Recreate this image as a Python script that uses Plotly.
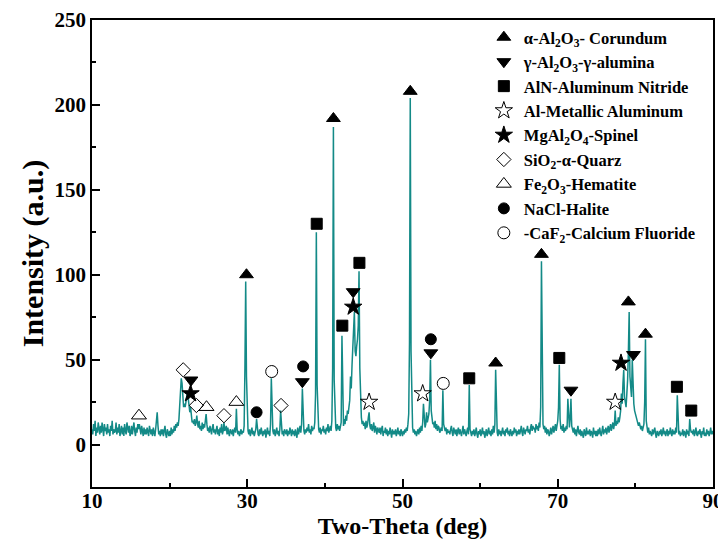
import numpy as np
import plotly.graph_objects as go

# ---------------- data ----------------
two_theta_start = 10.0
two_theta_step = 0.1

intensity = [
    9, 6, 12, 8, 14, 5, 10, 7, 13, 8,        # 10
    6, 11, 7, 13, 9, 5, 12, 8, 10, 6,        # 11
    12, 7, 9, 5, 11, 8, 14, 6, 9, 7,         # 12
    8, 13, 6, 10, 7, 12, 5, 9, 11, 6,        # 13
    10, 5, 12, 8, 6, 13, 9, 7, 11, 5,        # 14
    7, 11, 6, 9, 13, 8, 5, 10, 7, 12,        # 15
    9, 12, 8, 6, 11, 7, 5, 10, 6, 9,         # 16
    6, 10, 7, 5, 11, 8, 6, 9, 5, 10,         # 17
    7, 5, 9, 13, 19, 11, 6, 8, 5, 9,         # 18
    6, 9, 5, 8, 11, 6, 4, 9, 7, 5,           # 19
    8, 5, 10, 6, 9, 7, 11, 8, 12, 10,        # 20
    13, 11, 15, 25, 34, 39, 36, 30, 22, 24,  # 21
    22, 25, 29, 31, 27, 21, 19, 22, 16, 13,  # 22
    14, 12, 15, 11, 13, 17, 12, 10, 14, 9,   # 23
    11, 8, 13, 9, 12, 10, 14, 18, 12, 8,     # 24
    10, 7, 11, 8, 6, 10, 12, 7, 9, 6,        # 25
    8, 11, 6, 9, 5, 10, 7, 12, 6, 8,         # 26
    13, 8, 9, 11, 6, 10, 7, 5, 9, 7,         # 27
    6, 9, 5, 8, 10, 7, 21, 9, 6, 8,          # 28
    5, 7, 9, 6, 8, 7, 11, 45, 96, 40,        # 29
    12, 8, 6, 9, 5, 7, 10, 6, 8, 5,          # 30
    7, 9, 15, 8, 6, 5, 9, 6, 10, 7,          # 31
    5, 8, 6, 9, 4, 7, 10, 6, 8, 5,           # 32
    12, 39, 13, 8, 6, 9, 5, 7, 10, 6,        # 33
    8, 5, 9, 20, 10, 6, 8, 5, 9, 7,          # 34
    6, 9, 5, 8, 6, 10, 7, 5, 9, 6,           # 35
    8, 5, 9, 7, 4, 10, 6, 8, 11, 7,          # 36
    12, 33, 14, 8, 6, 9, 7, 10, 8, 12,       # 37
    7, 9, 6, 11, 8, 10, 9, 13, 30, 125,      # 38
    35, 12, 9, 7, 10, 6, 9, 8, 11, 7,        # 39
    9, 6, 10, 8, 12, 7, 9, 11, 8, 14,        # 40
    45, 187, 38, 14, 10, 8, 12, 9, 11, 8,    # 41
    10, 13, 64, 18, 11, 15, 12, 17, 14, 20,  # 42
    18, 22, 26, 40, 33, 47, 58, 66, 78, 55,  # 43
    52, 58, 62, 70, 102, 45, 24, 16, 12, 14, # 44
    11, 13, 9, 14, 10, 12, 16, 19, 11, 9,    # 45
    12, 8, 10, 13, 7, 11, 9, 6, 10, 8,       # 46
    7, 10, 6, 9, 11, 5, 8, 7, 10, 6,         # 47
    9, 5, 8, 6, 10, 7, 4, 9, 6, 8,           # 48
    6, 9, 5, 7, 10, 6, 8, 5, 9, 7,           # 49
    5, 8, 6, 9, 7, 10, 8, 12, 18, 60,        # 50
    204, 55, 16, 10, 7, 9, 6, 8, 5, 7,       # 51
    9, 6, 10, 7, 11, 8, 13, 24, 11, 10,      # 52
    12, 19, 13, 15, 18, 26, 50, 20, 14, 12,  # 53
    13, 10, 14, 9, 12, 8, 11, 10, 7, 9,      # 54
    10, 8, 32, 12, 9, 8, 10, 6, 9, 7,        # 55
    8, 6, 9, 11, 7, 5, 10, 8, 6, 9,          # 56
    5, 8, 10, 6, 9, 7, 5, 8, 11, 6,          # 57
    9, 7, 5, 8, 10, 6, 35, 9, 7, 5,          # 58
    8, 6, 9, 5, 7, 10, 6, 4, 8, 6,           # 59
    9, 5, 7, 10, 6, 8, 4, 7, 9, 5,           # 60
    7, 10, 6, 8, 5, 9, 6, 11, 7, 12,         # 61
    44, 11, 7, 5, 9, 6, 8, 5, 7, 10,         # 62
    6, 8, 5, 9, 7, 10, 6, 8, 5, 9,           # 63
    7, 5, 8, 6, 10, 7, 9, 5, 8, 6,           # 64
    9, 6, 8, 11, 7, 5, 10, 8, 6, 9,          # 65
    8, 11, 7, 9, 6, 10, 12, 8, 11, 9,        # 66
    10, 7, 12, 9, 11, 8, 13, 10, 22, 108,    # 67
    30, 12, 9, 11, 7, 10, 6, 9, 8, 5,        # 68
    7, 10, 6, 8, 11, 7, 9, 12, 8, 10,        # 69
    14, 22, 47, 15, 9, 11, 8, 12, 7, 10,     # 70
    8, 11, 9, 27, 13, 10, 16, 27, 11, 9,     # 71
    7, 10, 6, 9, 5, 8, 11, 7, 6, 9,          # 72
    5, 8, 6, 4, 9, 7, 5, 10, 6, 8,           # 73
    6, 9, 5, 8, 7, 4, 10, 6, 8, 5,           # 74
    8, 5, 9, 6, 10, 7, 5, 8, 11, 6,          # 75
    9, 7, 10, 6, 8, 11, 7, 9, 12, 8,         # 76
    10, 13, 9, 12, 20, 11, 14, 12, 16, 13,   # 77
    16, 20, 30, 24, 36, 44, 28, 25, 22, 30,  # 78
    38, 55, 78, 40, 30, 28, 50, 32, 24, 20,  # 79
    18, 16, 14, 12, 11, 13, 10, 9, 11, 8,    # 80
    10, 12, 25, 62, 14, 9, 7, 10, 6, 8,      # 81
    7, 5, 9, 6, 8, 10, 6, 4, 8, 7,           # 82
    5, 8, 6, 9, 5, 7, 10, 6, 8, 5,           # 83
    7, 9, 5, 8, 6, 10, 7, 5, 9, 6,           # 84
    8, 6, 10, 7, 29, 9, 6, 8, 5, 7,          # 85
    6, 9, 5, 8, 7, 4, 9, 6, 8, 5,            # 86
    15, 9, 7, 8, 6, 9, 5, 7, 10, 6,          # 87
    5, 8, 6, 9, 7, 4, 8, 6, 10, 5,           # 88
    7, 5, 9, 6, 8, 5, 7, 10, 6, 8,           # 89
    6,                                       # 90
]

# phase markers (2-theta, intensity)
corundum_x = [29.9, 41.1, 51.0, 62.0, 67.9, 79.1, 81.3]
corundum_y = [100, 192, 208, 48, 112, 84, 65]
gamma_x = [22.75, 37.1, 43.65, 53.65, 71.7, 79.75]
gamma_y = [38, 37, 90, 54, 32, 53]
aln_x = [38.95, 42.25, 44.45, 58.6, 70.2, 85.35, 87.2]
aln_y = [130, 70, 107, 39, 51, 34, 20]
al_x = [45.7, 52.6, 77.4]
al_y = [25, 30, 25]
spinel_x = [22.7, 43.65, 78.15]
spinel_y = [30, 81, 48]
quartz_x = [21.75, 23.45, 27.0, 34.35]
quartz_y = [44, 23, 17, 23]
hematite_x = [16.05, 24.75, 28.6]
hematite_y = [17, 22, 25]
halite_x = [31.2, 37.2, 53.65]
halite_y = [19, 46, 62]
caf2_x = [33.15, 55.25]
caf2_y = [43, 36]

x_tick_vals = [10, 30, 50, 70, 90]
y_tick_vals = [0, 50, 100, 150, 200, 250]

# ---------------- figure ----------------
two_theta = np.round(two_theta_start + two_theta_step * np.arange(len(intensity)), 2)

FONT = "Liberation Serif"
fig = go.Figure()
fig.add_trace(go.Scatter(
    x=two_theta, y=intensity, mode="lines",
    line=dict(color="#138a87", width=1.5), showlegend=False, hoverinfo="skip"))

phases = [
    ("α-Al<sub>2</sub>O<sub>3</sub>- Corundum", corundum_x, corundum_y, "triangle-up", 12),
    ("γ-Al<sub>2</sub>O<sub>3</sub>-γ-alumina", gamma_x, gamma_y, "triangle-down", 12),
    ("AlN-Aluminum Nitride", aln_x, aln_y, "square", 11),
    ("Al-Metallic Aluminum", al_x, al_y, "star-open", 13),
    ("MgAl<sub>2</sub>O<sub>4</sub>-Spinel", spinel_x, spinel_y, "star", 13),
    ("SiO<sub>2</sub>-α-Quarz", quartz_x, quartz_y, "diamond-open", 11),
    ("Fe<sub>2</sub>O<sub>3</sub>-Hematite", hematite_x, hematite_y, "triangle-up-open", 13),
    ("NaCl-Halite", halite_x, halite_y, "circle", 11),
    ("-CaF<sub>2</sub>-Calcium Fluoride", caf2_x, caf2_y, "circle-open", 12),
]
for name, xs, ys, sym, sz in phases:
    fig.add_trace(go.Scatter(
        x=xs, y=ys, mode="markers", name=name,
        marker=dict(symbol=sym, size=sz, color="black", line=dict(color="black", width=1))))

axis_common = dict(
    showline=True, linecolor="black", linewidth=1.5, mirror=True,
    ticks="inside", tickcolor="black", tickwidth=1.5, ticklen=8,
    showgrid=False, zeroline=False, automargin=False,
    tickfont=dict(family=FONT, size=21, color="black", weight="bold"),
)
fig.update_xaxes(
    range=[10, 90], tickvals=x_tick_vals, ticklabelstandoff=-6,
    minor=dict(ticks="inside", ticklen=4, tickwidth=1.5, tickcolor="black", dtick=10, tick0=10),
    title=dict(text="Two-Theta (deg)", font=dict(family=FONT, size=24, color="black", weight="bold"),
               standoff=0),
    **axis_common)
fig.update_yaxes(
    range=[-25, 250], tickvals=y_tick_vals,
    minor=dict(ticks="inside", ticklen=4, tickwidth=1.5, tickcolor="black", dtick=25, tick0=0),
    title=dict(text="Intensity (a.u.)", font=dict(family=FONT, size=30, color="black", weight="bold"),
               standoff=2),
    **axis_common)

# the page body adds an 8 px offset, so the figure is sized to fit the window
fig.update_layout(
    width=718, height=537,
    margin=dict(l=84, r=13, t=12, b=58),
    paper_bgcolor="white", plot_bgcolor="white",
    legend=dict(x=0.631, y=1.0, xanchor="left", yanchor="top",
                bgcolor="rgba(0,0,0,0)", borderwidth=0,
                font=dict(family=FONT, size=16.5, color="black", weight="bold"),
                itemsizing="trace"),
)

fig.write_html("out.html")
